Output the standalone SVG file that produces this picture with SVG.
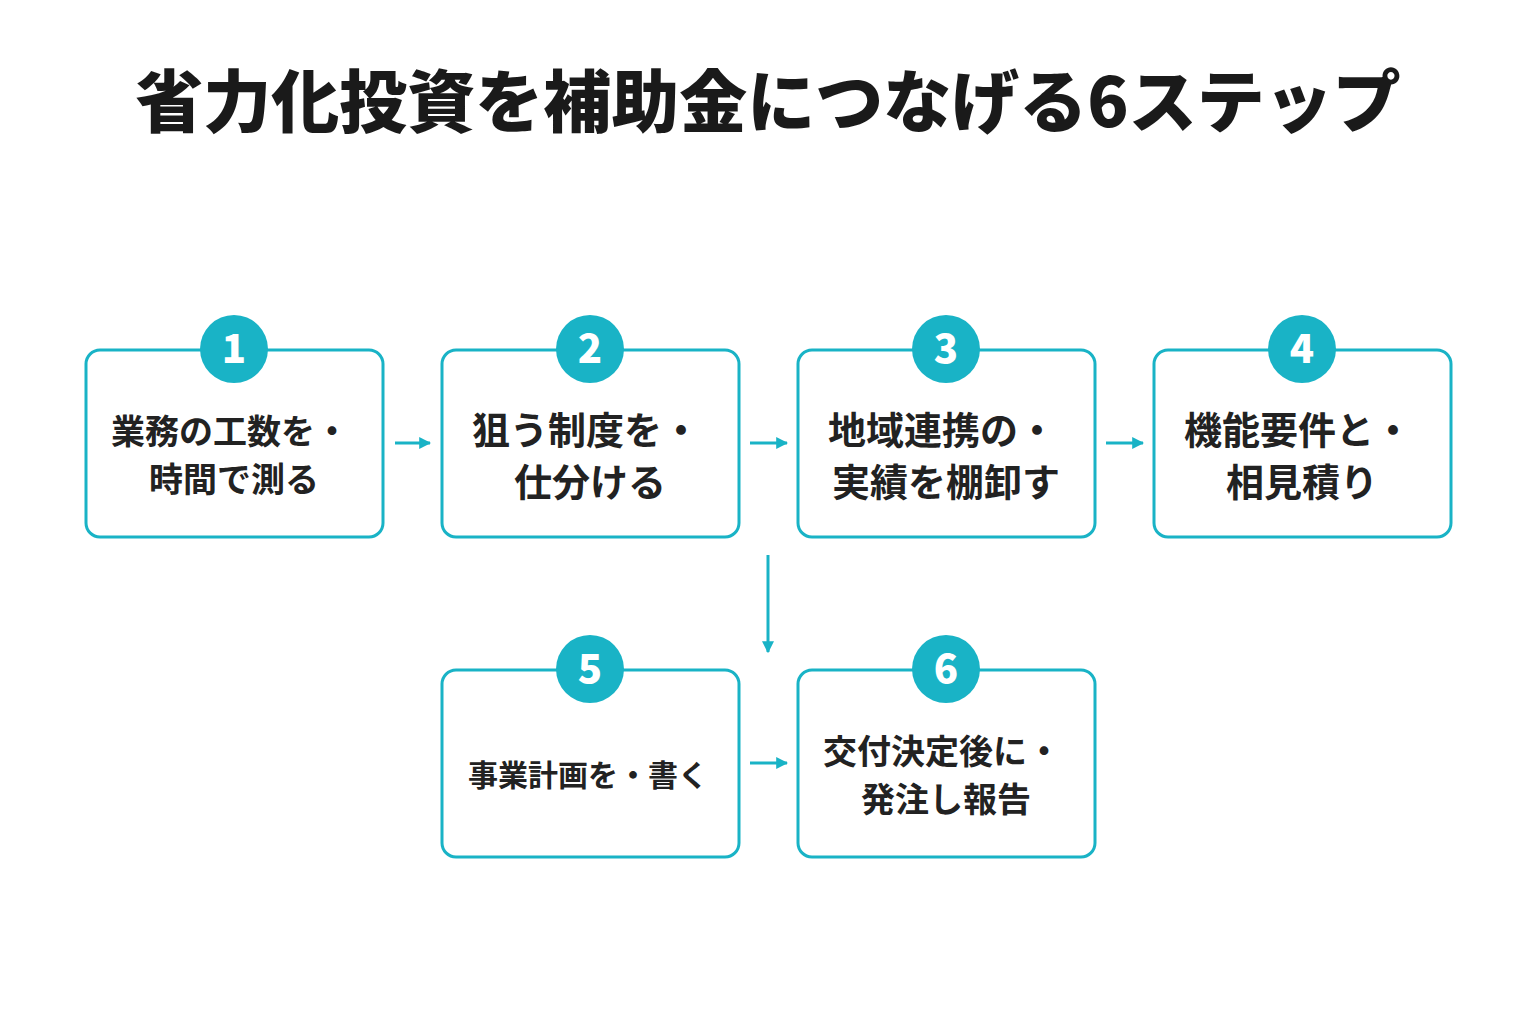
<svg xmlns="http://www.w3.org/2000/svg" width="1536" height="1024" viewBox="0 0 1536 1024">
<defs>
<style>
.box{fill:#fff;stroke:#19b3c6;stroke-width:3}
.c{fill:#19b3c6}
.n{font-family:"Noto Sans CJK JP","Noto Sans",sans-serif;font-weight:900;font-size:40px;fill:#fff;text-anchor:middle}
.t{font-family:"Noto Sans CJK JP",sans-serif;font-weight:700;fill:#222;text-anchor:middle}
.ln{stroke:#19b3c6;stroke-width:3;fill:none}
</style>
<marker id="a" viewBox="0 0 10 10" refX="9" refY="5" markerWidth="4" markerHeight="4" orient="auto"><path d="M0,0L10,5L0,10z" fill="#19b3c6"/></marker>
</defs>
<rect width="1536" height="1024" fill="#fff"/>
<text x="768" y="127" font-family="Noto Sans CJK JP,sans-serif" font-weight="900" font-size="68" fill="#1a1a1a" text-anchor="middle">省力化投資を補助金につなげる6ステップ</text>
<g id="connectors">
<line class="ln" x1="395" y1="443" x2="430" y2="443" marker-end="url(#a)"/>
<line class="ln" x1="750" y1="443" x2="787" y2="443" marker-end="url(#a)"/>
<line class="ln" x1="1106" y1="443" x2="1143" y2="443" marker-end="url(#a)"/>
<line class="ln" x1="768" y1="555" x2="768" y2="652" marker-end="url(#a)"/>
<line class="ln" x1="750" y1="763" x2="787" y2="763" marker-end="url(#a)"/>
</g>
<g id="n1"><rect class="box" x="86" y="350" width="297" height="187" rx="14"/><circle class="c" cx="234" cy="349" r="34"/><text class="n" x="234" y="363">1</text><text class="t" font-size="34" x="230" y="444">業務の工数を・</text><text class="t" font-size="34" x="234" y="492">時間で測る</text></g>
<g id="n2"><rect class="box" x="442" y="350" width="297" height="187" rx="14"/><circle class="c" cx="590" cy="349" r="34"/><text class="n" x="590" y="363">2</text><text class="t" font-size="38" x="586" y="444">狙う制度を・</text><text class="t" font-size="38" x="590" y="496">仕分ける</text></g>
<g id="n3"><rect class="box" x="798" y="350" width="297" height="187" rx="14"/><circle class="c" cx="946" cy="349" r="34"/><text class="n" x="946" y="363">3</text><text class="t" font-size="38" x="942" y="444">地域連携の・</text><text class="t" font-size="38" x="946" y="496">実績を棚卸す</text></g>
<g id="n4"><rect class="box" x="1154" y="350" width="297" height="187" rx="14"/><circle class="c" cx="1302" cy="349" r="34"/><text class="n" x="1302" y="363">4</text><text class="t" font-size="38" x="1298" y="444">機能要件と・</text><text class="t" font-size="38" x="1302" y="496">相見積り</text></g>
<g id="n5"><rect class="box" x="442" y="670" width="297" height="187" rx="14"/><circle class="c" cx="590" cy="669" r="34"/><text class="n" x="590" y="683">5</text><text class="t" font-size="30" x="588" y="786">事業計画を・書く</text></g>
<g id="n6"><rect class="box" x="798" y="670" width="297" height="187" rx="14"/><circle class="c" cx="946" cy="669" r="34"/><text class="n" x="946" y="683">6</text><text class="t" font-size="34" x="942" y="764">交付決定後に・</text><text class="t" font-size="34" x="946" y="812">発注し報告</text></g>
</svg>
